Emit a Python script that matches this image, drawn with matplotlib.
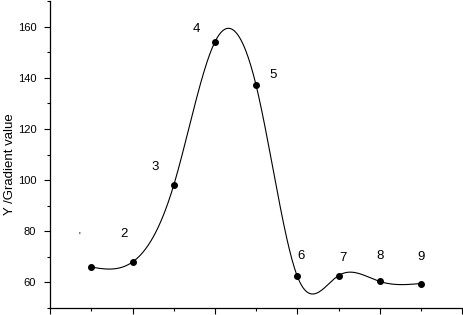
import numpy as np
import matplotlib
matplotlib.use("Agg")
import matplotlib.pyplot as plt
from matplotlib.ticker import MultipleLocator, NullFormatter

# data
sample = [1, 2, 3, 4, 5, 6, 7, 8, 9]
gradient = [66, 68, 98, 154, 137, 62.4, 62.7, 60.4, 59.6]
point_labels = ["2", "3", "4", "5", "6", "7", "8", "9"]
label_x = [1.8, 2.55, 3.55, 5.4, 6.1, 7.1, 8.0, 9.0]
label_y = [79, 105, 159, 141, 70.5, 69.5, 70.5, 70]


def natural_spline(x, y, n=400):
    x = np.asarray(x, float)
    y = np.asarray(y, float)
    k = len(x)
    h = np.diff(x)
    A = np.zeros((k, k))
    b = np.zeros(k)
    A[0, 0] = A[-1, -1] = 1
    for i in range(1, k - 1):
        A[i, i - 1] = h[i - 1]
        A[i, i] = 2 * (h[i - 1] + h[i])
        A[i, i + 1] = h[i]
        b[i] = 3 * ((y[i + 1] - y[i]) / h[i] - (y[i] - y[i - 1]) / h[i - 1])
    c = np.linalg.solve(A, b)
    xs = np.linspace(x[0], x[-1], n)
    idx = np.clip(np.searchsorted(x, xs) - 1, 0, k - 2)
    dx = xs - x[idx]
    hi = h[idx]
    bb = (y[idx + 1] - y[idx]) / hi - hi * (2 * c[idx] + c[idx + 1]) / 3
    dd = (c[idx + 1] - c[idx]) / (3 * hi)
    ys = y[idx] + bb * dx + c[idx] * dx ** 2 + dd * dx ** 3
    return xs, ys


plt.rcParams["font.family"] = ["Liberation Sans", "DejaVu Sans"]

fig = plt.figure(figsize=(4.64, 3.15), dpi=100)
ax = fig.add_axes([0.108, 0.022, 0.888, 0.975])

xs, ys = natural_spline(sample, gradient)
ax.plot(xs, ys, color="black", lw=0.8)
ax.plot(sample, gradient, "o", color="black", ms=4)

for t, lx, ly in zip(point_labels, label_x, label_y):
    ax.text(lx, ly, t, fontsize=9.5, ha="center", va="center")
ax.text(0.72, 78, "'", fontsize=7, ha="center", va="center")

ax.set_xlim(0, 10)
ax.set_ylim(50, 170)
ax.xaxis.set_major_locator(MultipleLocator(2))
ax.xaxis.set_minor_locator(MultipleLocator(1))
ax.xaxis.set_major_formatter(NullFormatter())
ax.yaxis.set_major_locator(MultipleLocator(20))
ax.yaxis.set_minor_locator(MultipleLocator(10))
ax.set_yticks([60, 80, 100, 120, 140, 160])

ax.tick_params(axis="both", which="major", length=4, width=0.8, labelsize=8, pad=6)
ax.tick_params(axis="both", which="minor", length=2, width=0.8)
ax.spines["top"].set_visible(False)
ax.spines["right"].set_visible(False)
ax.spines["left"].set_linewidth(0.9)
ax.spines["bottom"].set_linewidth(0.9)

ax.set_ylabel("Y /Gradient value", fontsize=9.5)
ax.yaxis.set_label_coords(-0.083, 0.47)

fig.savefig("out.png", dpi=100)
